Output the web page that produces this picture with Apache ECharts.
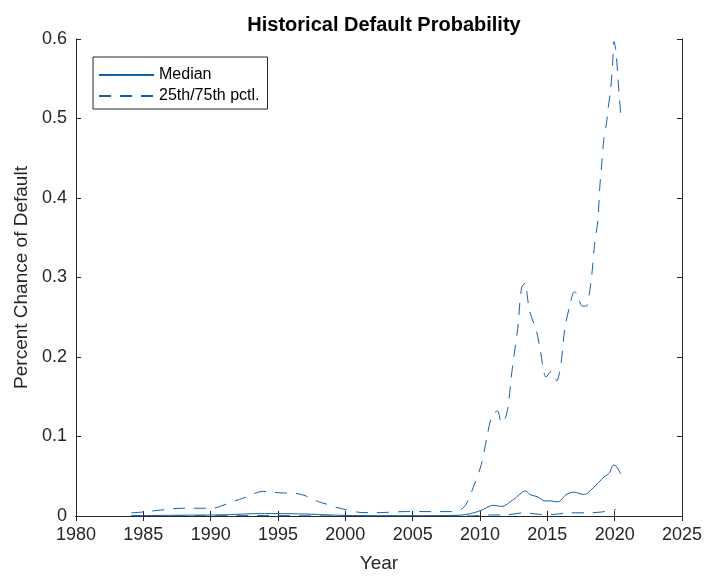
<!DOCTYPE html>
<html>
<head>
<meta charset="utf-8">
<script src="https://cdn.jsdelivr.net/npm/echarts@6/dist/echarts.min.js"></script>
<style>
html,body{margin:0;padding:0;background:#fff;}
#chart{width:706px;height:578px;}
</style>
</head>
<body>
<div id="chart"></div>
<script>
var titleText = 'Historical Default Probability';
var xAxisName = 'Year';
var yAxisName = 'Percent Chance of Default';
var medianName = 'Median';
var pctlName = '25th/75th pctl.';

var p75Years = [1984.1,1985.0,1986.0,1986.6,1987.5,1988.5,1989.5,1990.2,1991.0,1991.8,1992.5,1993.2,1993.9,1994.5,1995.3,1996.3,1997.1,1998.0,1998.6,1999.3,2000.1,2001.1,2002.0,2002.8,2004.3,2005.5,2006.5,2007.8,2008.4,2008.9,2009.5,2010.1,2010.5,2010.9,2011.3,2011.6,2011.9,2012.1,2012.4,2012.8,2013.1,2013.4,2013.5,2013.7,2014.2,2014.5,2014.7,2014.9,2015.3,2015.5,2015.7,2016.0,2016.3,2016.7,2017.0,2017.2,2017.6,2017.9,2018.1,2018.3,2018.5,2018.75,2018.9,2019.05,2019.2,2019.4,2019.5,2019.7,2019.85,2019.95,2020.1,2020.25,2020.45];
var p75Values = [0.004,0.005,0.007,0.008,0.0095,0.0098,0.0097,0.0098,0.014,0.019,0.023,0.028,0.031,0.030,0.029,0.0285,0.025,0.018,0.015,0.011,0.0078,0.0045,0.0042,0.0044,0.0055,0.0056,0.0055,0.0056,0.0068,0.013,0.036,0.065,0.098,0.127,0.132,0.117,0.124,0.14,0.186,0.236,0.288,0.293,0.278,0.257,0.232,0.207,0.184,0.175,0.182,0.177,0.170,0.19,0.236,0.267,0.282,0.28,0.264,0.264,0.278,0.303,0.34,0.372,0.415,0.445,0.474,0.495,0.511,0.536,0.57,0.597,0.584,0.549,0.505];

var medianYears = [1984.1,1988.0,1991.0,1993.0,1995.0,1997.0,1999.0,2001.0,2005.0,2008.5,2009.3,2010.0,2011.0,2011.6,2012.5,2013.4,2013.7,2014.3,2014.8,2015.2,2015.8,2016.4,2017.0,2017.7,2018.0,2018.8,2019.2,2019.6,2019.9,2020.1,2020.45];
var medianValues = [0.0005,0.001,0.0015,0.0028,0.003,0.0025,0.0012,0.0005,0.0004,0.001,0.003,0.0065,0.0135,0.012,0.021,0.0315,0.027,0.024,0.019,0.019,0.0178,0.027,0.030,0.027,0.029,0.042,0.049,0.054,0.064,0.063,0.053];

var p25Years = [1984.1,1994.0,2000.0,2009.0,2010.75,2012.0,2013.3,2014.5,2015.5,2016.5,2018.0,2019.0,2020.1];
var p25Values = [0.0,0.0005,0.0,0.0,0.0012,0.0015,0.004,0.002,0.002,0.004,0.004,0.005,0.008];

var xTickMin = 1980, xTickMax = 2025, xTickStep = 5;
var yTickMin = 0, yTickMax = 0.6, yTickStep = 0.1;

function pairs(xs, ys) { return xs.map(function (x, i) { return [x, ys[i]]; }); }

var lineColor = '#1660a8';
var axisColor = '#262626';
var font = '"Liberation Sans", Arial, Helvetica, sans-serif';
var dash = [12, 9];

var chart = echarts.init(document.getElementById('chart'), null, {renderer: 'canvas'});
chart.setOption({
  animation: false,
  backgroundColor: '#fff',
  textStyle: {fontFamily: font},
  title: {
    text: titleText,
    left: 379, textAlign: 'center', top: 10,
    textStyle: {fontSize: 20, fontWeight: 'bold', color: '#000', fontFamily: font}
  },
  legend: {
    data: [medianName, pctlName],
    orient: 'vertical',
    left: 93, top: 57,
    padding: [10, 8, 5, 5],
    itemGap: 5,
    itemWidth: 55, itemHeight: 14,
    borderColor: axisColor, borderWidth: 1,
    backgroundColor: '#fff',
    itemStyle: {opacity: 0},
    textStyle: {fontSize: 16, color: '#000', fontFamily: font}
  },
  grid: {left: 76, right: 24, top: 39, bottom: 59.5, show: false},
  xAxis: [{
    type: 'value', min: xTickMin, max: xTickMax, interval: xTickStep,
    name: xAxisName, nameLocation: 'middle', nameGap: 38,
    nameTextStyle: {fontSize: 19, color: axisColor, fontFamily: font},
    axisLine: {show: true, lineStyle: {color: axisColor, width: 1}},
    axisTick: {show: true, inside: true, length: 5, lineStyle: {color: axisColor}},
    axisLabel: {fontSize: 18, color: axisColor, margin: 10, fontFamily: font,
      formatter: function (v) { return String(v); }},
    splitLine: {show: false}
  }, {
    type: 'value', position: 'top', min: xTickMin, max: xTickMax, interval: xTickStep,
    axisLine: {show: true, lineStyle: {color: axisColor, width: 1}},
    axisTick: {show: true, inside: true, length: 5, lineStyle: {color: axisColor}},
    axisLabel: {show: false},
    splitLine: {show: false}
  }],
  yAxis: [{
    type: 'value', min: yTickMin, max: yTickMax, interval: yTickStep,
    name: yAxisName, nameLocation: 'middle', nameGap: 45,
    nameTextStyle: {fontSize: 19, color: axisColor, fontFamily: font},
    axisLine: {show: true, lineStyle: {color: axisColor, width: 1}},
    axisTick: {show: true, inside: true, length: 5, lineStyle: {color: axisColor}},
    axisLabel: {fontSize: 18, color: axisColor, margin: 9, fontFamily: font},
    splitLine: {show: false}
  }, {
    type: 'value', position: 'right', min: yTickMin, max: yTickMax, interval: yTickStep,
    axisLine: {show: true, lineStyle: {color: axisColor, width: 1}},
    axisTick: {show: true, inside: true, length: 5, lineStyle: {color: axisColor}},
    axisLabel: {show: false},
    splitLine: {show: false}
  }],
  series: [{
    name: medianName, type: 'line', xAxisIndex: 0, yAxisIndex: 0,
    data: pairs(medianYears, medianValues),
    symbol: 'none', smooth: 0.3,
    lineStyle: {color: lineColor, width: 1},
    itemStyle: {color: lineColor}
  }, {
    name: pctlName, type: 'line', xAxisIndex: 0, yAxisIndex: 0,
    data: pairs(p25Years, p25Values),
    symbol: 'none', smooth: 0.3,
    lineStyle: {color: lineColor, width: 1, type: dash},
    itemStyle: {color: lineColor}
  }, {
    name: pctlName, type: 'line', xAxisIndex: 0, yAxisIndex: 0,
    data: pairs(p75Years, p75Values),
    symbol: 'none', smooth: 0.3,
    lineStyle: {color: lineColor, width: 1, type: dash},
    itemStyle: {color: lineColor}
  }]
});
</script>
</body>
</html>
